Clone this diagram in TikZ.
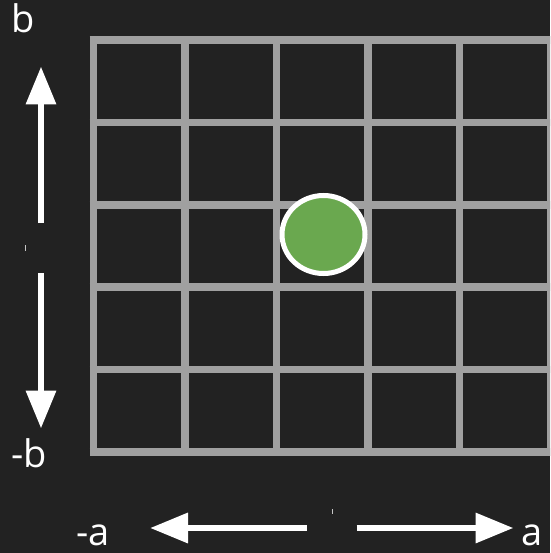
\documentclass[tikz,border=0pt]{standalone}
\usepackage{fontspec}
\setmainfont{Open Sans}
\usepackage{tikz}
\usetikzlibrary{arrows.meta, positioning, calc, shapes.geometric}
\definecolor{boardbg}{RGB}{34, 34, 34}
\definecolor{gridgray}{RGB}{160, 160, 160}
\definecolor{dotgreen}{RGB}{106, 168, 79}

\tikzset{
    axisarrow/.style={white, line width=6.5pt, -{Triangle[length=38pt, width=29pt]}},
    axislabel/.style={white, inner sep=0pt, anchor=base west, font=\fontsize{38}{40}\selectfont},
    tickmark/.style={gridgray!60!white, line width=1pt}
}

\begin{document}
\begin{tikzpicture}[x=1pt, y=-1pt]
        % Background
        \fill[boardbg] (0,0) rectangle (550,553);
        \useasboundingbox (0,0) rectangle (550,553);
        \clip (0,0) rectangle (550,553);

        % Grid
        \foreach \i in {0,...,5} {
            \draw[gridgray, line width=7.7pt] ({93.5+91.5*\i},36.2) -- ({93.5+91.5*\i},455.8);
            \draw[gridgray, line width=7.7pt] (89.7,{40+82.4*\i}) -- (560,{40+82.4*\i});
        }

        % Dot
        \node[ellipse, minimum width=83pt, minimum height=78pt, draw=white, line width=5pt, fill=dotgreen] (dot) at (323.5,234.5) {};

        % Vertical arrows
        \coordinate (bstart) at (41,223);
        \coordinate (bend) at (41,66.5);
        \coordinate (mbstart) at (41,273);
        \coordinate (mbend) at (41,428.5);
        \draw[axisarrow] (bstart) -- (bend);
        \draw[axisarrow] (mbstart) -- (mbend);
        \draw[tickmark] (25.5,245) -- (25.5,251);

        % Horizontal arrows
        \coordinate (mastart) at (306.5,528);
        \coordinate (maend) at (150,528);
        \coordinate (astart) at (356.5,528);
        \coordinate (aend) at (513.5,528);
        \draw[axisarrow] (mastart) -- (maend);
        \draw[axisarrow] (astart) -- (aend);
        \draw[tickmark] (332.5,509) -- (332.5,514);

        % Labels
        \node[axislabel] (lblb) at (11,33) {b};
        \node[axislabel] (lblmb) at (11,467) {-b};
        \node[axislabel] (lblma) at (76,545) {-a};
        \node[axislabel] (lbla) at (521,545) {a};
    \end{tikzpicture}
\end{document}
